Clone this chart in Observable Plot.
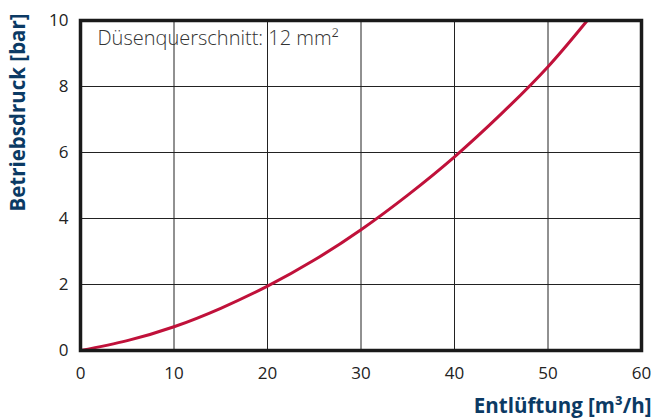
<!DOCTYPE html>
<html><head><meta charset="utf-8">
<script src="https://cdn.jsdelivr.net/npm/d3@7"></script>
<script src="https://cdn.jsdelivr.net/npm/@observablehq/plot@0.6"></script>
<style>
body{margin:0;background:#fff;}
#chart svg{display:block;}
</style>
</head><body><div id="chart"></div>
<script>
const flow = [0, 5, 10, 15, 20, 25, 30, 35, 40, 45, 50, 54.2];
const pressure = [0, 0.3, 0.72, 1.28, 1.95, 2.74, 3.66, 4.71, 5.87, 7.17, 8.6, 10];
const xTicks = [0, 10, 20, 30, 40, 50, 60];
const yTicks = [0, 2, 4, 6, 8, 10];
const annotation = "Düsenquerschnitt: 12 mm²";
const xLabel = "Entlüftung [m³/h]";
const yLabel = "Betriebsdruck [bar]";

const data = flow.map((q, i) => ({q, p: pressure[i]}));
const font = "'Open Sans', 'Noto Sans', sans-serif";
const navy = "#0b3a64";

const chart = Plot.plot({
  width: 655, height: 418,
  marginLeft: 80, marginRight: 14, marginTop: 20, marginBottom: 68,
  style: {fontFamily: font, fontSize: "16px", color: "#222", background: "#fff"},
  x: {domain: [0, 60], ticks: xTicks, label: null},
  y: {domain: [0, 10], ticks: yTicks, label: null},
  marks: [
    Plot.gridX(xTicks.slice(1, -1), {stroke: "#222", strokeOpacity: 1, strokeWidth: 1}),
    Plot.gridY(yTicks.slice(1, -1), {stroke: "#222", strokeOpacity: 1, strokeWidth: 1}),
    Plot.text([annotation], {frameAnchor: "top-left", dx: 17, dy: 10, fontSize: 20, fill: "#333", fontWeight: 300}),
    Plot.line(data, {x: "q", y: "p", curve: "natural", stroke: "#c0113a", strokeWidth: 3}),
    Plot.frame({stroke: "#1a1a1a", strokeWidth: 3.5}),
    Plot.axisX(xTicks, {tickSize: 0, tickPadding: 16, fontSize: 17, fill: "#222", label: null}),
    Plot.axisY(yTicks, {tickSize: 0, tickPadding: 12, fontSize: 17, fill: "#222", label: null}),
    Plot.text([xLabel], {frameAnchor: "bottom-right", dy: 62, dx: 10, fontSize: 20.5, fontWeight: "bold", fill: navy, textAnchor: "end"}),
    Plot.text([yLabel], {frameAnchor: "left", dx: -62, dy: -73, rotate: -90, textAnchor: "middle", fontSize: 20.5, fontWeight: "bold", fill: navy})
  ]
});
document.getElementById("chart").appendChild(chart);
</script>
</body></html>
